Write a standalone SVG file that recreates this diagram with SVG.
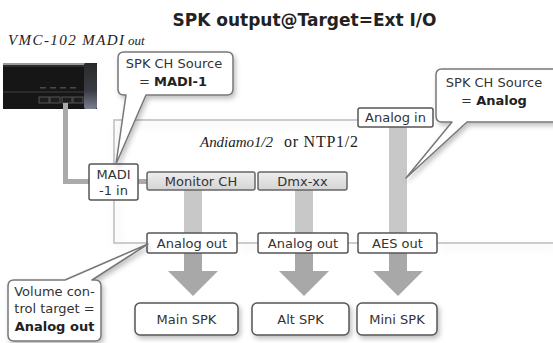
<svg xmlns="http://www.w3.org/2000/svg" width="553" height="343" viewBox="0 0 553 343">
  <defs>
    <filter id="shadow" x="-20%" y="-20%" width="150%" height="160%">
      <feDropShadow dx="2" dy="3" stdDeviation="2.5" flood-color="#000" flood-opacity="0.25"/>
    </filter>
    <filter id="softShadow" x="-10%" y="-10%" width="130%" height="130%">
      <feDropShadow dx="3" dy="4" stdDeviation="4" flood-color="#000" flood-opacity="0.12"/>
    </filter>
    <linearGradient id="chFill" x1="0" y1="0" x2="0" y2="1">
      <stop offset="0" stop-color="#eeeeee"/>
      <stop offset="1" stop-color="#d4d4d4"/>
    </linearGradient>
    <linearGradient id="devEnd" x1="0" y1="0" x2="0" y2="1">
      <stop offset="0" stop-color="#2a2a2a"/>
      <stop offset="0.6" stop-color="#3a3d44"/>
      <stop offset="1" stop-color="#7a8090"/>
    </linearGradient>
  </defs>
  <style>
    .lbl { font-family: "DejaVu Sans", "Liberation Sans", sans-serif; font-size: 13px; fill: #333; text-anchor: middle; }
    .bold { font-weight: bold; fill: #222; }
    .serif { font-family: "Liberation Serif", "DejaVu Serif", serif; fill: #222; }
    .box { fill: #fff; stroke: #555; stroke-width: 1.5; }
    .chbox { fill: url(#chFill); stroke: #666; stroke-width: 1.5; }
    .spk { fill: #fff; stroke: #555; stroke-width: 1.5; filter: url(#shadow); }
    .callout { fill: #fff; stroke: #777; stroke-width: 1.5; stroke-linejoin: round; filter: url(#shadow); }
    .frame { fill: none; stroke: #bdbdbd; stroke-width: 1.5; }
    .bar { fill: #c8c8c8; }
    .arrow { fill: #a8a8a8; }
    .cable { fill: none; stroke: #aaa; stroke-width: 5; }
  </style>

  <rect width="553" height="343" fill="#fff"/>

  <!-- title -->
  <text x="304.5" y="26" font-family="DejaVu Sans, Liberation Sans, sans-serif" font-size="17" font-weight="bold" fill="#222" text-anchor="middle">SPK output@Target=Ext I/O</text>

  <!-- source device -->
  <g id="vmc102">
    <text class="serif" x="8" y="45" font-size="15" font-style="italic" textLength="116" lengthAdjust="spacing">VMC-102 MADI</text>
    <text class="serif" x="128" y="45" font-size="13" font-style="italic">out</text>
    <rect x="3" y="63" width="94" height="46" fill="#161616"/>
    <rect x="3" y="63" width="82" height="2" fill="#9a9a9a"/>
    <rect x="3" y="65" width="82" height="2" fill="#2c2c2c"/>
    <line x1="3" y1="92" x2="84" y2="92" stroke="#333" stroke-width="1.5"/>
    <rect x="84" y="63" width="13" height="46" rx="2" fill="url(#devEnd)"/>
    <g fill="#4a4a4a">
      <rect x="40" y="87" width="6" height="1.5"/>
      <rect x="50" y="87" width="6" height="1.5"/>
      <rect x="60" y="87" width="6" height="1.5"/>
      <rect x="70" y="87" width="6" height="1.5"/>
    </g>
    <g fill="#1e1e1e" stroke="#555" stroke-width="1">
      <rect x="39" y="97" width="10" height="6"/>
      <rect x="50" y="97" width="10" height="6"/>
      <rect x="62" y="97" width="10" height="6"/>
      <rect x="73" y="97" width="10" height="6"/>
    </g>
  </g>

  <!-- unit frame -->
  <g id="frame" filter="url(#softShadow)">
    <path class="frame" d="M358,120 H114 V243 H147"/>
    <line class="frame" x1="237" y1="243" x2="258" y2="243"/>
    <line class="frame" x1="348" y1="243" x2="358" y2="243"/>
    <line class="frame" x1="437" y1="243" x2="553" y2="243"/>
  </g>
  <text class="serif" x="200" y="147" font-size="15" font-style="italic" textLength="73" lengthAdjust="spacing">Andiamo1/2</text>
  <text class="serif" x="284" y="147" font-size="16" textLength="74" lengthAdjust="spacing">or NTP1/2</text>

  <!-- signal paths -->
  <g id="connectors">
    <path class="cable" d="M65.5,103 V181.5 H90"/>
    <line class="cable" x1="137" y1="181.5" x2="148" y2="181.5"/>
    <rect class="bar" x="184" y="190" width="18" height="44"/>
    <rect class="bar" x="295" y="190" width="18" height="44"/>
    <rect class="bar" x="389" y="127" width="18" height="107"/>
    <path class="arrow" d="M184,253 H202 V271 H218 L193,296 L168,271 H184 Z"/>
    <path class="arrow" d="M295,253 H313 V271 H329 L304,296 L279,271 H295 Z"/>
    <path class="arrow" d="M389,253 H407 V271 H423 L398,296 L373,271 H389 Z"/>
  </g>

  <!-- inputs and channels -->
  <g id="madi-in">
    <rect class="box" x="89" y="164" width="49" height="36" rx="2"/>
    <text class="lbl" x="113.5" y="178.5">MADI</text>
    <text class="lbl" x="113.5" y="195">-1 in</text>
  </g>
  <g id="analog-in">
    <rect class="box" x="358" y="108" width="75" height="19" rx="2"/>
    <text class="lbl" x="395.5" y="122">Analog in</text>
  </g>
  <g id="monitor-ch">
    <rect class="chbox" x="147" y="172" width="108" height="18" rx="2"/>
    <text class="lbl" x="201" y="185.5">Monitor CH</text>
  </g>
  <g id="dmx-xx">
    <rect class="chbox" x="258" y="172" width="89" height="18" rx="2"/>
    <text class="lbl" x="302.5" y="185.5">Dmx-xx</text>
  </g>

  <!-- outputs -->
  <g id="analog-out-1">
    <rect class="box" x="147" y="233" width="90" height="20" rx="2"/>
    <text class="lbl" x="192" y="247.5">Analog out</text>
  </g>
  <g id="analog-out-2">
    <rect class="box" x="258" y="233" width="90" height="20" rx="2"/>
    <text class="lbl" x="303" y="247.5">Analog out</text>
  </g>
  <g id="aes-out">
    <rect class="box" x="358" y="233" width="79" height="20" rx="2"/>
    <text class="lbl" x="397.5" y="247.5">AES out</text>
  </g>

  <!-- speakers -->
  <g id="main-spk">
    <rect class="spk" x="135" y="303" width="103" height="32" rx="5"/>
    <text class="lbl" x="186.5" y="323.5">Main SPK</text>
  </g>
  <g id="alt-spk">
    <rect class="spk" x="252" y="303" width="97" height="32" rx="5"/>
    <text class="lbl" x="300.5" y="323.5">Alt SPK</text>
  </g>
  <g id="mini-spk">
    <rect class="spk" x="357" y="303" width="80" height="32" rx="5"/>
    <text class="lbl" x="397" y="323.5">Mini SPK</text>
  </g>

  <!-- callouts -->
  <g id="callout-madi">
    <path class="callout" d="M124,52 H227 Q233,52 233,58 V89 Q233,95 227,95 H146 L116,164 L126,95 H124 Q118,95 118,89 V58 Q118,52 124,52 Z"/>
    <text class="lbl" x="174" y="68">SPK CH  Source</text>
    <text class="lbl" x="173" y="86">= <tspan class="bold">MADI-1</tspan></text>
  </g>
  <g id="callout-analog">
    <path class="callout" d="M442,69 H560 V122 H467 L406,178 L452,122 H442 Q436,122 436,116 V75 Q436,69 442,69 Z"/>
    <text class="lbl" x="494" y="87">SPK CH Source</text>
    <text class="lbl" x="494" y="105">= <tspan class="bold">Analog</tspan></text>
  </g>
  <g id="callout-volume">
    <path class="callout" d="M14,280 H65 L148,244 L92,280 H95 Q101,280 101,286 V335 Q101,341 95,341 H14 Q8,341 8,335 V286 Q8,280 14,280 Z"/>
    <text class="lbl" x="54.5" y="296">Volume con-</text>
    <text class="lbl" x="54.5" y="313">trol  target =</text>
    <text class="lbl bold" x="54.5" y="331">Analog out</text>
  </g>
</svg>
